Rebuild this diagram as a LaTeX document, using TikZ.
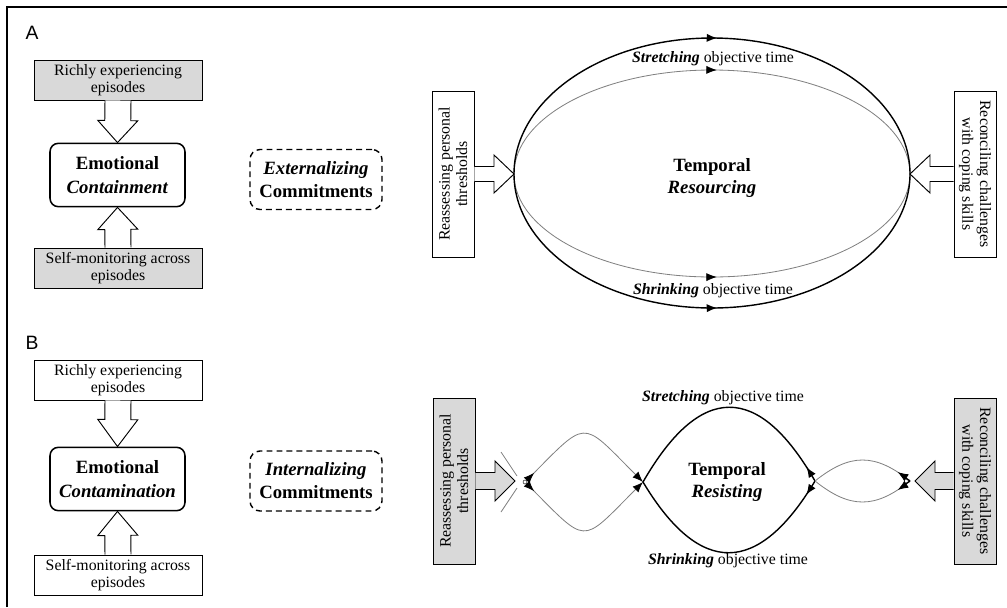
\documentclass[tikz,border=0pt]{standalone}
\usepackage{fontspec}
\setmainfont{Liberation Serif}
\setsansfont{Liberation Sans}
\usetikzlibrary{arrows.meta,calc,decorations.markings}

% block arrow: [style]{from}{tip}{shaft half}{head half}{head length}, sizes in px
\newcommand\blockarr[6][]{%
  \draw[blockarrow,#1] let \p1=(#2), \p2=(#3),
    \n1={atan2(\y2-\y1,\x2-\x1)}, \n2={veclen(\x2-\x1,\y2-\y1)} in
    [shift={(\p1)},rotate=\n1]
    (0pt,{#4*0.8536pt}) -- ({\n2*1pt-#6*0.8536pt},{#4*0.8536pt})
    -- ({\n2*1pt-#6*0.8536pt},{#5*0.8536pt}) -- ({\n2*1pt},0pt)
    -- ({\n2*1pt-#6*0.8536pt},{-#5*0.8536pt}) -- ({\n2*1pt-#6*0.8536pt},{-#4*0.8536pt})
    -- (0pt,{-#4*0.8536pt});%
}

\begin{document}
\begin{tikzpicture}[x=0.03cm, y=-0.03cm,
  >={Latex[length=9pt,width=7pt,color=black]},
  every node/.style={font=\fontsize{13.5}{15}\selectfont},
  srcbox/.style={draw, line width=0.8pt, minimum width=5.04cm, minimum height=1.2cm, align=center, inner sep=1pt},
  corebox/.style={draw, line width=1.3pt, rounded corners=0.25cm, minimum width=4.05cm, minimum height=1.9cm, align=center, font=\fontsize{16}{20}\selectfont\bfseries},
  commbox/.style={draw, dash pattern=on 5pt off 3.5pt, line width=1.2pt, rounded corners=0.3cm, minimum width=3.96cm, minimum height=1.8cm, align=center, font=\fontsize{16}{19.5}\selectfont\bfseries},
  sidebox/.style={draw, line width=0.8pt, minimum width=4.98cm, minimum height=1.26cm, align=center, inner sep=1pt},
  corelabel/.style={align=center, font=\fontsize{16}{19.5}\selectfont\bfseries},
  panel/.style={font=\sffamily\fontsize{16.5}{18}\selectfont},
  blockarrow/.style={draw=black, line width=0.8pt, fill=white, line join=miter},
  outerarc/.style={line width=1.2pt},
  innerarc/.style={draw=black!50, line width=0.7pt},
  midtip/.style={postaction={decorate}, decoration={markings, mark=at position #1 with {\arrow{>}}}}]
\useasboundingbox (0,0) rectangle (1007,607);
\draw[line width=0.9pt] (7,607) -- (7,7) -- (1007,7);

%% panel A
\node[panel] (labA) at (32,33) {A};
\node[srcbox, fill=gray!30] (rich1) at (118,80) {Richly experiencing\\episodes};
\node[corebox] (emo1) at (117.5,175) {Emotional\\\textit{Containment}};
\node[srcbox, fill=gray!30] (self1) at (118,268) {Self-monitoring across\\episodes};
\blockarr{rich1.south}{emo1.north}{13}{20}{22}
\blockarr{self1.north}{emo1.south}{13}{20}{22}
\node[commbox] (comm1) at (316,179.5) {\textit{Externalizing}\\Commitments};

\node[sidebox, rotate=90] (reass1) at (453,174) {Reassessing personal\\thresholds};
\node[sidebox, rotate=-90] (recon1) at (975,174) {Reconciling challenges\\with coping skills};
\coordinate (l1) at (514,174);
\coordinate (r1) at (910,174);
\draw[innerarc, midtip=0.51] (l1) arc[start angle=180, end angle=360, x radius=198, y radius=104];
\draw[innerarc, midtip=0.51] (l1) arc[start angle=180, end angle=0, x radius=198, y radius=103];
\draw[outerarc, midtip=0.51] (l1) arc[start angle=180, end angle=360, x radius=198, y radius=136];
\draw[outerarc, midtip=0.51] (l1) arc[start angle=180, end angle=0, x radius=198, y radius=134];
\blockarr{reass1.south}{l1}{7.5}{19}{20}
\blockarr{recon1.south}{r1}{7.5}{19}{20}
\node[corelabel] (temp1) at (712,178) {Temporal\\\textit{Resourcing}};
\node (str1) at (713,59) {\textbf{\textit{Stretching}} objective time};
\node (shr1) at (713,291) {\textbf{\textit{Shrinking}} objective time};

%% panel B
\node[panel] (labB) at (32,343) {B};
\node[srcbox] (rich2) at (118,380) {Richly experiencing\\episodes};
\node[corebox] (emo2) at (117.5,479) {Emotional\\\textit{Contamination}};
\node[srcbox] (self2) at (118,575) {Self-monitoring across\\episodes};
\blockarr{rich2.south}{emo2.north}{13}{20}{27}
\blockarr{self2.north}{emo2.south}{13}{20}{24}
\node[commbox] (comm2) at (316,481) {\textit{Internalizing}\\Commitments};

\node[sidebox, rotate=90, fill=gray!30] (reass2) at (454,481) {Reassessing personal\\thresholds};
\node[sidebox, rotate=-90, fill=gray!30] (recon2) at (975,481) {Reconciling challenges\\with coping skills};
\coordinate (t1) at (515,481);
\coordinate (t2) at (915,481);
\coordinate (p1) at (525,482);
\coordinate (p2) at (643,482);
\coordinate (p3) at (815,481);
\coordinate (p4) at (910,481);

\draw[innerarc] ([shift={(-8,-6)}]p1) -- ([shift={(-24,-30)}]p1);
\draw[innerarc] ([shift={(-8,6)}]p1) -- ([shift={(-24,30)}]p1);
\draw[innerarc, ->, midtip=11pt] (p1) .. controls +(64,-64) and +(-64,-64) .. (p2);
\draw[innerarc, ->, midtip=11pt] (p1) .. controls +(64,64) and +(-64,64) .. (p2);
\node[circle, draw, fill=white, inner sep=0pt, minimum size=0.12cm] (o1) at (p1) {};

\draw[outerarc, midtip=14pt] (p3) .. controls +(-57,-99) and +(57,-99) .. (p2);
\draw[outerarc, midtip=14pt] (p3) .. controls +(-57,95) and +(57,95) .. (p2);
\node[corelabel] (temp2) at (727,482) {Temporal\\\textit{Resisting}};
\node (str2) at (723,398) {\textbf{\textit{Stretching}} objective time};
\node (shr2) at (728,561) {\textbf{\textit{Shrinking}} objective time};

\draw[innerarc, midtip=13pt] (p4) .. controls +(-35,-28) and +(35,-28) .. (p3);
\draw[innerarc, midtip=13pt] (p4) .. controls +(-35,28) and +(35,28) .. (p3);
\draw[line width=1.2pt] (p4) -- +(-9,-6);
\draw[line width=1.2pt] (p4) -- +(-9,6);

\blockarr[fill=gray!30]{reass2.south}{t1}{8.5}{20}{20}
\blockarr[fill=gray!30]{recon2.south}{t2}{8.5}{20}{20}
\end{tikzpicture}
\end{document}
